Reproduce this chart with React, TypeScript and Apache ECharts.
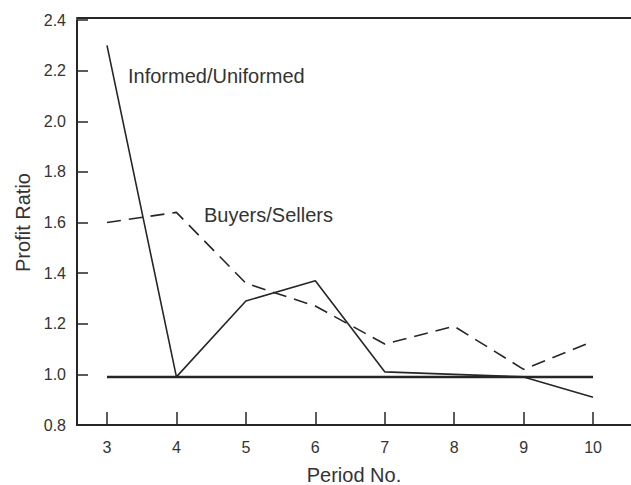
import React, { useEffect, useRef } from "react";
import * as echarts from "echarts";

const periods = [3, 4, 5, 6, 7, 8, 9, 10];
const informedUninformed = [2.3, 0.99, 1.29, 1.37, 1.01, 1.0, 0.99, 0.91];
const buyersSellers = [1.6, 1.64, 1.36, 1.27, 1.12, 1.19, 1.02, 1.13];
const parityLine = [0.99, 0.99, 0.99, 0.99, 0.99, 0.99, 0.99, 0.99];
const yTicks = [0.8, 1.0, 1.2, 1.4, 1.6, 1.8, 2.0, 2.2, 2.4];

const INK = "#262626";
const TEXT = "#333333";
const FONT = "Liberation Sans, Arial, Helvetica, sans-serif";

export default function App() {
  const ref = useRef<HTMLDivElement>(null);
  useEffect(() => {
    document.body.style.margin = "0";
    const chart = echarts.init(ref.current!, null, { renderer: "svg" });
    const pairs = (ys: number[]) => periods.map((p, i) => [p, ys[i]]);
    chart.setOption({
      animation: false,
      backgroundColor: "#ffffff",
      grid: {
        left: 77,
        right: 0,
        top: 20,
        bottom: 60,
        containLabel: false,
        outerBoundsMode: "none",
      },
      xAxis: [
        {
          type: "value",
          min: 2.568,
          max: 10.547,
          name: "Period No.",
          nameLocation: "middle",
          nameGap: 40,
          nameTextStyle: { fontFamily: FONT, fontSize: 20, color: TEXT },
          axisLine: { show: true, lineStyle: { color: INK, width: 2 } },
          axisTick: {
            show: true,
            inside: true,
            length: 13,
            customValues: periods,
            lineStyle: { color: INK, width: 1.5 },
          },
          axisLabel: {
            customValues: periods,
            margin: 14,
            fontFamily: FONT,
            fontSize: 16,
            color: TEXT,
          },
          splitLine: { show: false },
        },
        {
          type: "value",
          position: "top",
          min: 2.568,
          max: 10.547,
          offset: 2,
          axisLine: { show: true, lineStyle: { color: INK, width: 2 } },
          axisTick: { show: false },
          axisLabel: { show: false },
          splitLine: { show: false },
        },
      ],
      yAxis: {
        type: "value",
        min: 0.8,
        max: 2.4,
        interval: 0.2,
        name: "Profit Ratio",
        nameLocation: "middle",
        nameGap: 42,
        nameRotate: 90,
        nameTextStyle: { fontFamily: FONT, fontSize: 20, color: TEXT },
        axisLine: { show: true, lineStyle: { color: INK, width: 2 } },
        axisTick: {
          show: true,
          inside: true,
          length: 11,
          lineStyle: { color: INK, width: 1.5 },
        },
        axisLabel: {
          margin: 11,
          fontFamily: FONT,
          fontSize: 16,
          color: TEXT,
          formatter: (v: number) => {
            const m = yTicks.find((t) => Math.abs(t - v) < 1e-6);
            return (m ?? v).toFixed(1);
          },
        },
        splitLine: { show: false },
      },
      series: [
        {
          name: "Parity",
          type: "line",
          data: pairs(parityLine),
          showSymbol: false,
          lineStyle: { color: INK, width: 2.5 },
        },
        {
          name: "Informed/Uniformed",
          type: "line",
          data: pairs(informedUninformed),
          showSymbol: false,
          lineStyle: { color: INK, width: 1.6 },
        },
        {
          name: "Buyers/Sellers",
          type: "line",
          data: pairs(buyersSellers),
          showSymbol: false,
          lineStyle: { color: INK, width: 1.6, type: [14, 8] },
        },
      ],
      graphic: [
        {
          type: "text",
          left: 128,
          top: 66,
          style: {
            text: "Informed/Uniformed",
            fontFamily: FONT,
            fontSize: 20,
            fill: TEXT,
          },
        },
        {
          type: "text",
          left: 204,
          top: 205,
          style: {
            text: "Buyers/Sellers",
            fontFamily: FONT,
            fontSize: 20,
            fill: TEXT,
          },
        },
      ],
    });
    return () => chart.dispose();
  }, []);
  return <div ref={ref} style={{ width: 631, height: 485 }} />;
}
